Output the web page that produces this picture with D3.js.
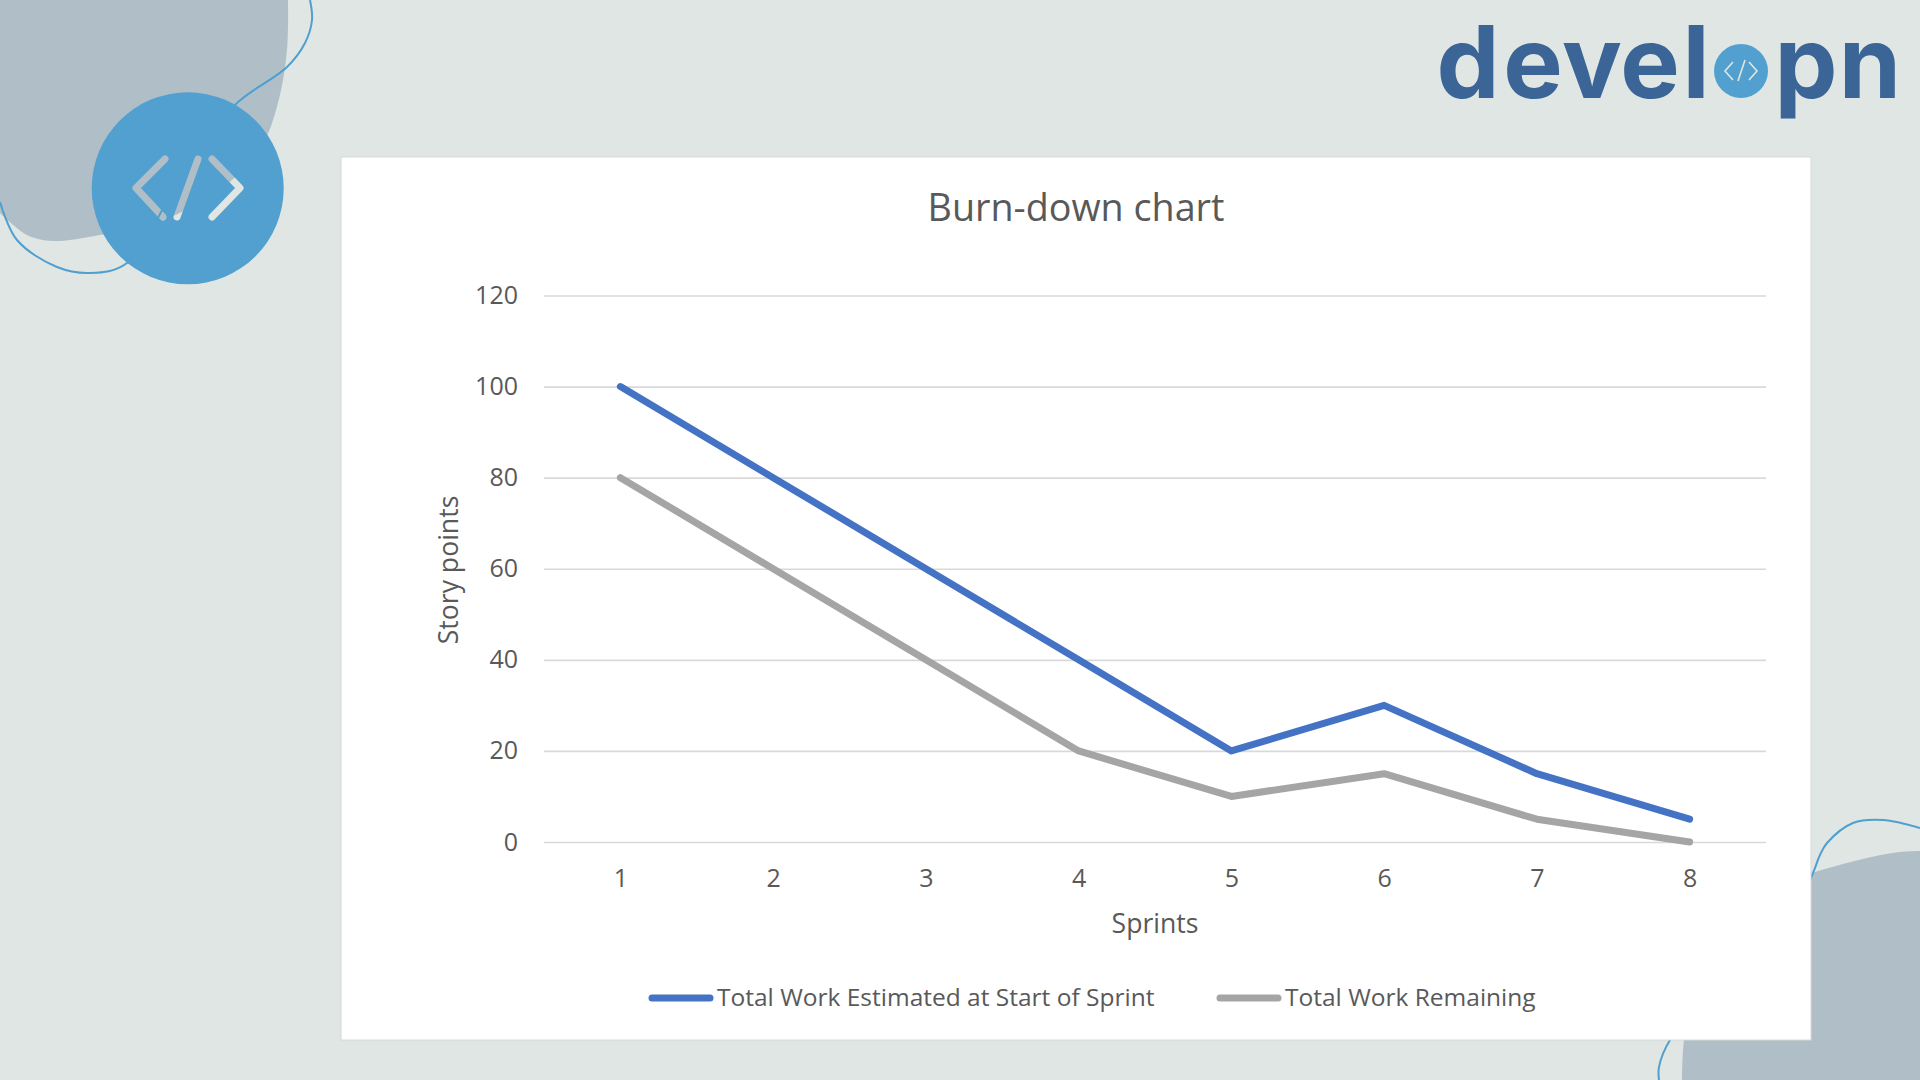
<!DOCTYPE html>
<html>
<head>
<meta charset="utf-8">
<script src="https://cdn.jsdelivr.net/npm/d3@7"></script>
<style>
  html, body { margin: 0; padding: 0; background: #e0e6e3; overflow: hidden; }
  svg { display: block; }
  text { font-family: "Open Sans", sans-serif; fill: #595959; }
</style>
</head>
<body>
<svg id="chart" width="1920" height="1080"></svg>
<script>
var sprints = [1, 2, 3, 4, 5, 6, 7, 8];
var estimated = [100, 80, 60, 40, 20, 30, 15, 5];
var remaining = [80, 60, 40, 20, 10, 15, 5, 0];
var yTicks = [0, 20, 40, 60, 80, 100, 120];
var seriesNames = ["Total Work Estimated at Start of Sprint", "Total Work Remaining"];
var seriesColors = ["#4472c4", "#a5a5a5"];
var logoLetters = ["d", "e", "v", "e", "l", "p", "n"];
var logoCenters = [1468, 1533, 1592, 1650, 1696, 1806, 1870];

var svg = d3.select("#chart");
var smooth = d3.line().curve(d3.curveCatmullRom.alpha(0.5));

// background decoration
var blobTop = [[288, 0], [287, 50], [278, 103], [262, 145], [220, 190], [150, 225], [100, 235], [53, 241], [27, 235], [0, 213]];
var curlTop = [[310, 0], [312, 20], [305, 43], [287, 67], [237, 103], [190, 160], [127, 263], [90, 273], [57, 267], [17, 240], [0, 202]];
var blobBottom = [[1920, 851], [1900, 852], [1867, 858], [1812, 873], [1780, 885], [1700, 960], [1684, 1040], [1682, 1080]];
var curlBottom = [[1920, 828], [1883, 820], [1853, 823], [1827, 843], [1820, 855], [1813, 873], [1800, 900], [1740, 960], [1670, 1040], [1659, 1067], [1659, 1080]];

svg.append("path").attr("d", smooth(blobTop) + "L0,0Z").attr("fill", "#b0bfc7");
svg.append("path").attr("d", smooth(curlTop)).attr("fill", "none").attr("stroke", "#4f9fcf").attr("stroke-width", 2);
svg.append("path").attr("d", smooth(blobBottom) + "L1920,1080Z").attr("fill", "#b0bfc7");
svg.append("path").attr("d", smooth(curlBottom)).attr("fill", "none").attr("stroke", "#4f9fcf").attr("stroke-width", 2);

// round badge, the code icon is cut out of it
var iconLines = [
  [[165, 159], [136, 188], [163, 217]],
  [[198, 159], [177, 217]],
  [[212, 159], [240, 188], [212, 217]]
];
var mask = svg.append("defs").append("mask").attr("id", "iconCut")
  .attr("maskUnits", "userSpaceOnUse")
  .attr("x", 0).attr("y", 0).attr("width", 400).attr("height", 400);
mask.append("rect").attr("width", 400).attr("height", 400).attr("fill", "#fff");
mask.selectAll("path").data(iconLines).enter().append("path")
  .attr("d", d3.line())
  .attr("fill", "none").attr("stroke", "#000").attr("stroke-width", 7)
  .attr("stroke-linecap", "round").attr("stroke-linejoin", "round");
svg.append("circle").attr("cx", 187.7).attr("cy", 188.3).attr("r", 96)
  .attr("fill", "#52a0cf").attr("mask", "url(#iconCut)");

// logo
svg.append("g").selectAll("text").data(logoLetters).enter().append("text")
  .attr("x", function(d, i) { return logoCenters[i]; })
  .attr("y", 98)
  .attr("text-anchor", "middle")
  .style("font-family", "Inter")
  .style("font-weight", 700)
  .style("font-size", "100px")
  .style("fill", "#3b6497")
  .text(function(d) { return d; });
svg.append("circle").attr("cx", 1741).attr("cy", 71).attr("r", 27).attr("fill", "#52a0cf");
var logoIcon = [
  [[1733, 62], [1725, 71], [1733, 80]],
  [[1745, 60], [1738, 81]],
  [[1749, 62], [1757, 71], [1749, 80]]
];
svg.append("g").selectAll("path").data(logoIcon).enter().append("path")
  .attr("d", d3.line())
  .attr("fill", "none").attr("stroke", "#e0e6e3").attr("stroke-width", 1.6);

// card
svg.append("rect").attr("x", 341).attr("y", 157).attr("width", 1470).attr("height", 883)
  .attr("fill", "#fff").attr("stroke", "#d6d9d7").attr("stroke-width", 1);

// scales
var x = d3.scalePoint().domain(sprints).range([544, 1766]).padding(0.5);
var y = d3.scaleLinear().domain([0, 120]).range([842, 295.5]);

var yAxis = d3.axisLeft(y).tickValues(yTicks).tickSize(-1222).tickPadding(26);
var gy = svg.append("g").attr("transform", "translate(544,0)").call(yAxis);
gy.select(".domain").remove();
gy.selectAll("line").attr("stroke", "#d9d9d9").attr("stroke-width", 1.6);
gy.selectAll("text").style("font-size", "25px").style("fill", "#595959").style("font-family", "Open Sans");

var xAxis = d3.axisBottom(x).tickSize(0).tickPadding(27);
var gx = svg.append("g").attr("transform", "translate(0,842)").call(xAxis);
gx.select(".domain").remove();
gx.selectAll("text").style("font-size", "25px").style("fill", "#595959").style("font-family", "Open Sans");

// lines
var line = d3.line()
  .x(function(d, i) { return x(sprints[i]); })
  .y(function(d) { return y(d); });

svg.selectAll(".series").data([estimated, remaining]).enter().append("path")
  .attr("class", "series")
  .attr("d", line)
  .attr("fill", "none")
  .attr("stroke", function(d, i) { return seriesColors[i]; })
  .attr("stroke-width", 7)
  .attr("stroke-linecap", "round")
  .attr("stroke-linejoin", "round");

// titles
svg.append("text").attr("x", 1076).attr("y", 208).attr("dy", "0.35em").attr("text-anchor", "middle")
  .style("font-size", "37.7px").text("Burn-down chart");
svg.append("text").attr("x", 1155).attr("y", 924).attr("dy", "0.35em").attr("text-anchor", "middle")
  .style("font-size", "26.6px").text("Sprints");
svg.append("text").attr("transform", "translate(449,570) rotate(-90)").attr("dy", "0.35em").attr("text-anchor", "middle")
  .style("font-size", "26.6px").text("Story points");

// legend
var legendKeys = [649, 1217];
var legend = svg.selectAll(".legend").data(seriesNames).enter().append("g")
  .attr("class", "legend")
  .attr("transform", function(d, i) { return "translate(" + legendKeys[i] + ",998)"; });
legend.append("line")
  .attr("x1", 3).attr("x2", 61)
  .attr("stroke", function(d, i) { return seriesColors[i]; })
  .attr("stroke-width", 7).attr("stroke-linecap", "round");
legend.append("text").attr("x", 68).attr("y", -1).attr("dy", "0.35em")
  .style("font-size", "24.5px").text(function(d) { return d; });
</script>
</body>
</html>
